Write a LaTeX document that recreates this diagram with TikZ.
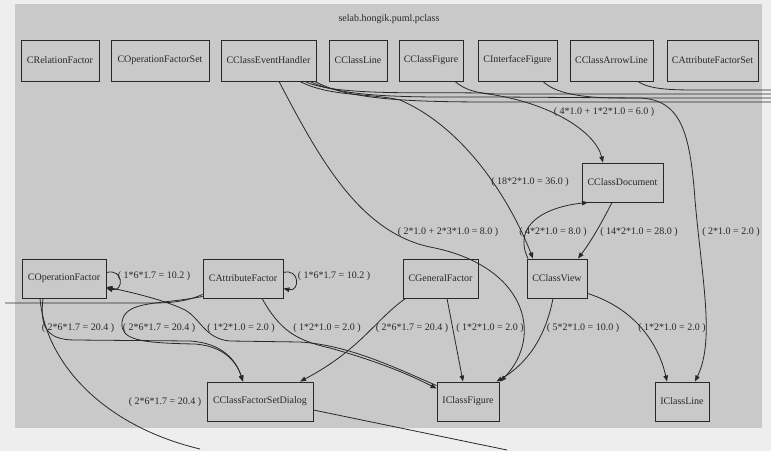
\documentclass[tikz,border=0pt]{standalone}
\usepackage{fontspec}
\setmainfont{Liberation Serif}
\usetikzlibrary{arrows.meta}
\definecolor{bggray}{RGB}{201,201,201}
\definecolor{paper}{RGB}{238,238,238}
\definecolor{ink}{RGB}{40,40,40}
\begin{document}
\begin{tikzpicture}[x=1pt,y=-1pt,
  box/.style={draw=ink, line width=0.9pt, fill=bggray, inner sep=0pt, font=\fontsize{10}{12}\selectfont, text=ink},
  edge/.style={draw=ink, line width=0.8pt, -{Triangle[length=6pt,width=4.5pt]}},
  plain/.style={draw=ink, line width=0.8pt},
  lbl/.style={font=\fontsize{10}{12}\selectfont, text=ink, inner sep=0pt}]
\fill[paper] (0,0) rectangle (771,451);
\fill[bggray] (15,4) rectangle (762,428);
\useasboundingbox (0,0) rectangle (771,451);

\node[lbl] (title) at (389,19) {selab.hongik.puml.pclass};

% top row
\node[box, minimum width=78pt, minimum height=41pt] (re) at (60,60.5) {CRelationFactor};
\node[box, minimum width=98pt, minimum height=41pt] (ofs) at (160,60.5) {COperationFactorSet};
\node[box, minimum width=95pt, minimum height=41pt] (eh) at (268.5,60.5) {CClassEventHandler};
\node[box, minimum width=58pt, minimum height=41pt] (cl) at (358,60.5) {CClassLine};
\node[box, minimum width=64pt, minimum height=41pt] (cf) at (431,60.5) {CClassFigure};
\node[box, minimum width=79pt, minimum height=41pt] (inf) at (517.5,60.5) {CInterfaceFigure};
\node[box, minimum width=83pt, minimum height=41pt] (cal) at (611.5,60.5) {CClassArrowLine};
\node[box, minimum width=91pt, minimum height=41pt] (afs) at (712.5,60.5) {CAttributeFactorSet};

\node[box, minimum width=81pt, minimum height=39pt] (doc) at (622.5,182.5) {CClassDocument};

\node[box, minimum width=84pt, minimum height=39pt] (op) at (64,278.5) {COperationFactor};
\node[box, minimum width=80pt, minimum height=39pt] (af) at (243,278.5) {CAttributeFactor};
\node[box, minimum width=75pt, minimum height=39pt] (gf) at (440.5,278.5) {CGeneralFactor};
\node[box, minimum width=60pt, minimum height=39pt] (cv) at (557,278.5) {CClassView};

\node[box, minimum width=106pt, minimum height=39pt] (fsd) at (260,401.5) {CClassFactorSetDialog};
\node[box, minimum width=62pt, minimum height=39pt] (icf) at (468,401.5) {IClassFigure};
\node[box, minimum width=54pt, minimum height=39pt] (icl) at (682,401.5) {IClassLine};

% free ends
\coordinate (rA) at (771,102);
\coordinate (rB) at (771,94);
\coordinate (rC) at (771,98);
\coordinate (rD) at (771,90);
\coordinate (bA) at (200,449);
\coordinate (bB) at (507,450);
\coordinate (lA) at (5,303);

% edges from CClassEventHandler
\draw[edge] ([xshift=10.5pt]eh.south) .. controls (320,160) and (360,232) .. (430,247) .. controls (525,265) and (545,335) .. ([xshift=1pt]icf.north east);
\draw[edge] ([xshift=31.5pt]eh.south) .. controls (330,97) and (370,93) .. (400,100) .. controls (465,128) and (510,200) .. ([xshift=-24pt]cv.north);
\draw[edge] ([xshift=36.5pt]eh.south) .. controls (335,96) and (420,92) .. (480,93) .. controls (545,100) and (595,130) .. ([xshift=-19.5pt]doc.north);
\draw[edge] ([xshift=41.5pt]eh.south) .. controls (345,99) and (420,97) .. (500,97) -- (640,98) .. controls (680,100) and (690,130) .. (695,200) .. controls (702,280) and (715,340) .. ([xshift=13pt]icl.north);
\draw[plain] ([xshift=46.5pt]eh.south) .. controls (350,101) and (420,102) .. (500,102) -- (rA);

% stray lines to the right
\draw[plain] ([xshift=24pt]cf.south) .. controls (466,91) and (480,94) .. (500,94) -- (rB);
\draw[plain] ([xshift=25.5pt]inf.south) .. controls (555,93) and (580,98) .. (620,98) -- (rC);
\draw[plain] ([xshift=26.5pt]cal.south) .. controls (650,90) and (675,90) .. (700,90) -- (rD);

% CClassDocument <-> CClassView
\draw[edge] ([xshift=-29pt]cv.north) .. controls (512,225) and (545,207) .. ([xshift=-34.5pt]doc.south);
\draw[edge] ([xshift=-10.5pt]doc.south) .. controls (602,222) and (592,240) .. ([xshift=21pt]cv.north);

% from CClassView
\draw[edge] ([xshift=-4pt]cv.south) .. controls (545,340) and (525,365) .. ([xshift=-3pt]icf.north east);
\draw[edge] ([yshift=5pt]cv.south east) .. controls (640,310) and (660,350) .. ([xshift=-15pt]icl.north);

% from CGeneralFactor
\draw[edge] ([xshift=6.5pt]gf.south) -- ([xshift=-5pt]icf.north);
\draw[edge] ([xshift=-35pt]gf.south) .. controls (375,320) and (360,350) .. ([xshift=40pt]fsd.north);

% from CAttributeFactor
\draw[edge] ([xshift=19pt]af.south) .. controls (280,330) and (295,340) .. (330,348) .. controls (380,362) and (410,375) .. ([yshift=13pt]icf.west);
\draw[edge] ([yshift=2pt]af.south west) .. controls (160,305) and (125,300) .. (122,322) .. controls (120,340) and (140,343) .. (195,344) .. controls (222,346) and (236,360) .. ([xshift=-17pt]fsd.north);
\draw[plain] ([yshift=4pt]af.south west) .. controls (185,302) and (170,303) .. (150,303) -- (lA);

% IClassFigure -> COperationFactor
\draw[edge] ([yshift=16pt]icf.west) .. controls (400,370) and (350,345) .. (300,342) -- (230,341) .. controls (205,339) and (200,318) .. (185,310) .. controls (165,300) and (130,292) .. ([yshift=-8.5pt]op.east);

% from COperationFactor
\draw[edge] ([xshift=-21pt]op.south) .. controls (40,325) and (45,340) .. (75,340) -- (190,341) .. controls (222,343) and (236,360) .. ([xshift=-17pt]fsd.north);
\draw[plain] ([xshift=-24pt]op.south) .. controls (45,360) and (100,425) .. (bA);
\draw[plain] ([yshift=-8.5pt]fsd.east) -- (bB);

% self loops
\draw[edge] ([yshift=6pt]op.east) .. controls (124,268) and (124,292) .. ([yshift=-10pt]op.east);
\draw[edge] ([yshift=6pt]af.east) .. controls (300,268) and (300,292) .. ([yshift=-10pt]af.east);

% labels
\node[lbl] (l1) at (604,112) {( 4*1.0 + 1*2*1.0 = 6.0 )};
\node[lbl] (l2) at (530,182) {( 18*2*1.0 = 36.0 )};
\node[lbl] (l3) at (448,232) {( 2*1.0 + 2*3*1.0 = 8.0 )};
\node[lbl] (l4) at (553,232) {( 4*2*1.0 = 8.0 )};
\node[lbl] (l5) at (639,232) {( 14*2*1.0 = 28.0 )};
\node[lbl] (l6) at (731,232) {( 2*1.0 = 2.0 )};
\node[lbl] (l7) at (154,276) {( 1*6*1.7 = 10.2 )};
\node[lbl] (l8) at (334,276) {( 1*6*1.7 = 10.2 )};
\node[lbl] (l9) at (78,328) {( 2*6*1.7 = 20.4 )};
\node[lbl] (l10) at (159,328) {( 2*6*1.7 = 20.4 )};
\node[lbl] (l11) at (241,328) {( 1*2*1.0 = 2.0 )};
\node[lbl] (l12) at (327,328) {( 1*2*1.0 = 2.0 )};
\node[lbl] (l13) at (412,328) {( 2*6*1.7 = 20.4 )};
\node[lbl] (l14) at (490,328) {( 1*2*1.0 = 2.0 )};
\node[lbl] (l15) at (583,328) {( 5*2*1.0 = 10.0 )};
\node[lbl] (l16) at (672,328) {( 1*2*1.0 = 2.0 )};
\node[lbl] (l17) at (165,402) {( 2*6*1.7 = 20.4 )};
\end{tikzpicture}
\end{document}
